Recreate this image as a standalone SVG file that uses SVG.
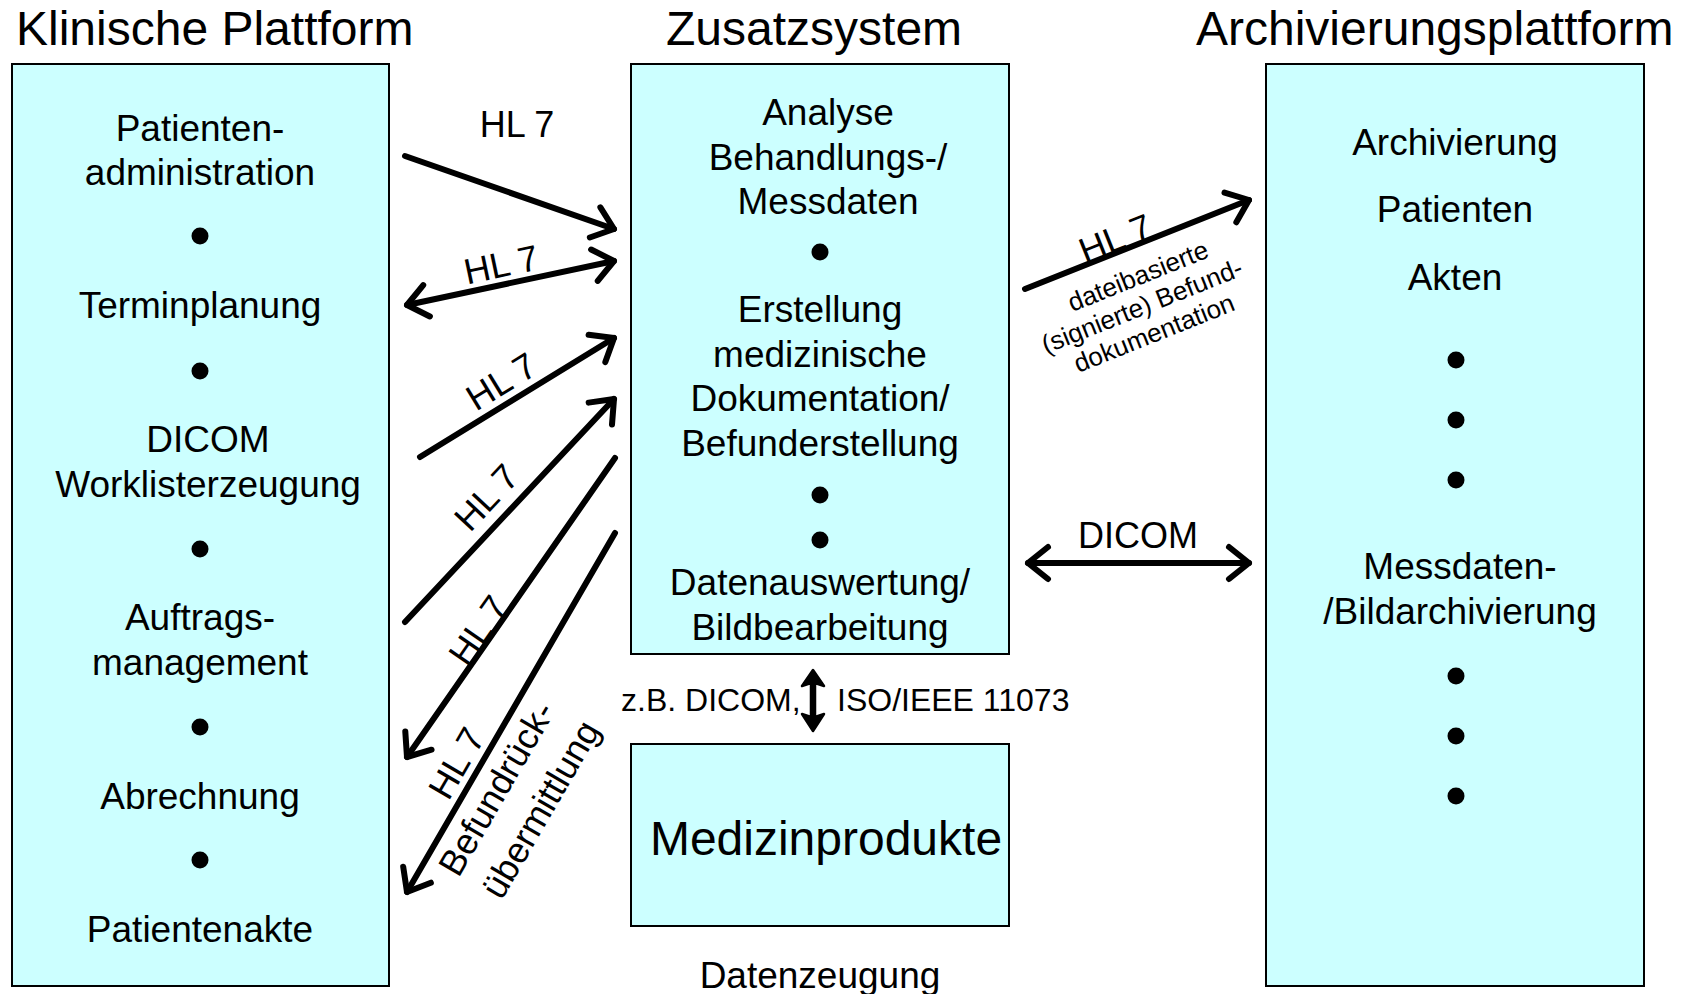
<svg xmlns="http://www.w3.org/2000/svg" width="1684" height="994" viewBox="0 0 1684 994">
<style>
text{font-family:"Liberation Sans",Arial,sans-serif;fill:#000}
.t{font-size:48px}
.b{font-size:37px;text-anchor:middle}
.l{font-size:36px;text-anchor:middle}
.s{font-size:26px;text-anchor:middle}
.m{font-size:32px}
.box{fill:#CCFFFF;stroke:#000;stroke-width:2}
.c{stroke:#000;stroke-width:6;fill:none;stroke-linecap:round}
</style>
<defs>
<marker id="ah" markerUnits="userSpaceOnUse" orient="auto-start-reverse" overflow="visible" refX="0" refY="0" markerWidth="40" markerHeight="40">
<path d="M-20,-16 L0,0 L-20,16" fill="none" stroke="#000" stroke-width="6" stroke-linecap="round" stroke-linejoin="round"/>
</marker>
</defs>
<rect width="1684" height="994" fill="#fff"/>
<text class="t" x="16" y="45">Klinische Plattform</text>
<text class="t" x="666" y="45">Zusatzsystem</text>
<text class="t" x="1196" y="45">Archivierungsplattform</text>

<g id="klinische-plattform">
<rect class="box" x="12" y="64" width="377" height="922"/>
<text class="b" x="200" y="141">Patienten-</text>
<text class="b" x="200" y="185">administration</text>
<circle cx="200" cy="236" r="8.5"/>
<text class="b" x="200" y="318">Terminplanung</text>
<circle cx="200" cy="371" r="8.5"/>
<text class="b" x="208" y="452">DICOM</text>
<text class="b" x="208" y="497">Worklisterzeugung</text>
<circle cx="200" cy="549" r="8.5"/>
<text class="b" x="200" y="630">Auftrags-</text>
<text class="b" x="200" y="675">management</text>
<circle cx="200" cy="727" r="8.5"/>
<text class="b" x="200" y="809">Abrechnung</text>
<circle cx="200" cy="860" r="8.5"/>
<text class="b" x="200" y="942">Patientenakte</text>
</g>

<g id="zusatzsystem">
<rect class="box" x="631" y="64" width="378" height="590"/>
<text class="b" x="828" y="125">Analyse</text>
<text class="b" x="828" y="170">Behandlungs-/</text>
<text class="b" x="828" y="214">Messdaten</text>
<circle cx="820" cy="252" r="8.5"/>
<text class="b" x="820" y="322">Erstellung</text>
<text class="b" x="820" y="367">medizinische</text>
<text class="b" x="820" y="411">Dokumentation/</text>
<text class="b" x="820" y="456">Befunderstellung</text>
<circle cx="820" cy="495" r="8.5"/>
<circle cx="820" cy="540" r="8.5"/>
<text class="b" x="820" y="595">Datenauswertung/</text>
<text class="b" x="820" y="640">Bildbearbeitung</text>
</g>

<g id="medizinprodukte">
<rect class="box" x="631" y="744" width="378" height="182"/>
<text x="826" y="855" style="font-size:48px;text-anchor:middle">Medizinprodukte</text>
<text class="b" x="820" y="988">Datenzeugung</text>
</g>

<g id="archivierungsplattform">
<rect class="box" x="1266" y="64" width="378" height="922"/>
<text class="b" x="1455" y="155">Archivierung</text>
<text class="b" x="1455" y="222">Patienten</text>
<text class="b" x="1455" y="290">Akten</text>
<circle cx="1456" cy="360" r="8.5"/>
<circle cx="1456" cy="420" r="8.5"/>
<circle cx="1456" cy="480" r="8.5"/>
<text class="b" x="1460" y="579">Messdaten-</text>
<text class="b" x="1460" y="624">/Bildarchivierung</text>
<circle cx="1456" cy="676" r="8.5"/>
<circle cx="1456" cy="736" r="8.5"/>
<circle cx="1456" cy="796" r="8.5"/>
</g>

<g id="connectors">
<line class="c" x1="405" y1="156" x2="614" y2="229" marker-end="url(#ah)"/>
<text class="l" x="517" y="137">HL 7</text>

<line class="c" x1="407" y1="305" x2="614" y2="261" marker-start="url(#ah)" marker-end="url(#ah)"/>
<text class="l" transform="translate(501,264) rotate(-11.9)" y="13">HL 7</text>

<line class="c" x1="420" y1="457" x2="614" y2="338" marker-end="url(#ah)"/>
<text class="l" transform="translate(501,381) rotate(-31.6)" y="13">HL 7</text>

<line class="c" x1="405" y1="622" x2="614" y2="399" marker-end="url(#ah)"/>
<text class="l" transform="translate(486,497) rotate(-46.8)" y="13">HL 7</text>

<line class="c" x1="615" y1="458" x2="407" y2="757" marker-end="url(#ah)"/>
<text class="l" transform="translate(478,630) rotate(-55.1)" y="13">HL 7</text>

<line class="c" x1="615" y1="533" x2="407" y2="892" marker-end="url(#ah)"/>
<text class="l" transform="translate(456,763) rotate(-59.9)" y="13">HL 7</text>
<text class="l" transform="translate(496,788) rotate(-59.9)" y="13">Befundrück-</text>
<text class="l" transform="translate(540,809) rotate(-59.9)" y="13">übermittlung</text>

<line class="c" x1="1025" y1="289" x2="1249" y2="200" marker-end="url(#ah)"/>
<text class="l" transform="translate(1115,238) rotate(-21.8)" y="13">HL 7</text>
<text class="s" transform="translate(1138,276) rotate(-21.8)" y="9">dateibasierte</text>
<text class="s" transform="translate(1142,306) rotate(-21.8)" y="9">(signierte) Befund-</text>
<text class="s" transform="translate(1154,333) rotate(-21.8)" y="9">dokumentation</text>

<line class="c" x1="1028" y1="563" x2="1249" y2="563" marker-start="url(#ah)" marker-end="url(#ah)"/>
<text class="l" x="1138" y="548">DICOM</text>

<path d="M813,670 L824,686 L815,683 L815,717 L824,714 L813,731 L802,714 L811,717 L811,683 L802,686 Z" fill="#000" stroke="#000" stroke-width="2.5" stroke-linejoin="round"/>
<text class="m" x="621" y="711">z.B. DICOM,</text>
<text class="m" x="837" y="711">ISO/IEEE 11073</text>
</g>
</svg>
